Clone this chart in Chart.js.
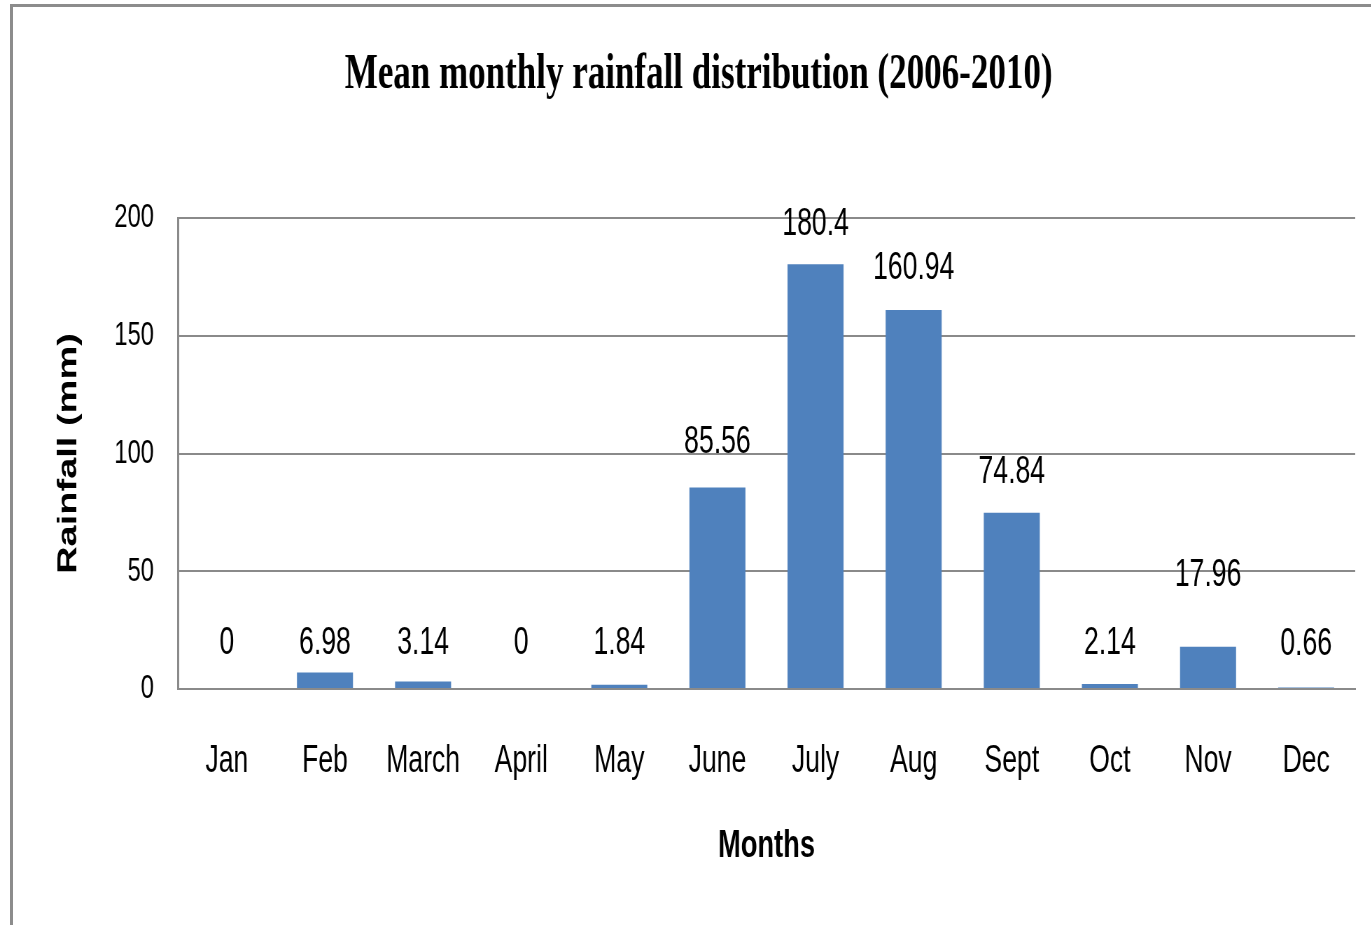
<!DOCTYPE html>
<html>
<head>
<meta charset="utf-8">
<title>Mean monthly rainfall distribution (2006-2010)</title>
<script src="https://cdn.jsdelivr.net/npm/chart.js@4.4.1/dist/chart.umd.min.js"></script>
<style>
    html, body { margin: 0; padding: 0; background: #fff; overflow: hidden; }
    #stage { position: relative; width: 1371px; height: 925px; overflow: hidden; }
    /* the original picture is squeezed sideways, so the chart is drawn wide and condensed */
    #rainChart { position: absolute; left: 0; top: 0; transform: scaleX(0.7); transform-origin: 0 0; }
    #frame {
        position: absolute; left: 10px; top: 4px; width: 1400px; height: 960px;
        border-left: 3px solid #8c8c8c; border-top: 3px solid #8c8c8c;
        pointer-events: none;
    }
</style>
</head>
<body>
<div id="stage">
    <canvas id="rainChart" width="1959" height="925"></canvas>
    <div id="frame"></div>
</div>
<script>
// values
const months   = ['Jan', 'Feb', 'March', 'April', 'May', 'June', 'July', 'Aug', 'Sept', 'Oct', 'Nov', 'Dec'];
const rainfall = [0, 6.98, 3.14, 0, 1.84, 85.56, 180.4, 160.94, 74.84, 2.14, 17.96, 0.66];
const yTicks   = [0, 50, 100, 150, 200];

// how far (px) each value label sits above its bar, as placed in the original
const labelLift = [45, 29, 38, 45, 41, 45, 40, 41, 40, 40, 71, 43];

const axisGrey = '#8a8a8a';

const valueLabels = {
    id: 'valueLabels',
    afterDatasetsDraw(chart) {
        const ctx = chart.ctx;
        const meta = chart.getDatasetMeta(0);
        ctx.save();
        ctx.font = '38px "Liberation Sans", Arial, sans-serif';
        ctx.fillStyle = '#000';
        ctx.textAlign = 'center';
        ctx.textBaseline = 'middle';
        meta.data.forEach((bar, i) => {
            ctx.fillText(String(rainfall[i]), bar.x, bar.y - labelLift[i]);
        });
        ctx.restore();
    }
};

new Chart(document.getElementById('rainChart').getContext('2d'), {
    type: 'bar',
    data: {
        labels: months,
        datasets: [{
            label: 'Rainfall (mm)',
            data: rainfall,
            backgroundColor: '#4f81bd',
            borderWidth: 0,
            barPercentage: 0.571,
            categoryPercentage: 1.0,
        }],
    },
    options: {
        responsive: false,
        animation: false,
        devicePixelRatio: 1,
        layout: { padding: { left: 60, right: 23, top: 0, bottom: 0 } },
        plugins: {
            legend: { display: false },
            tooltip: { enabled: false },
            title: {
                display: true,
                text: 'Mean monthly rainfall distribution (2006-2010)',
                color: '#000',
                font: { family: '"Liberation Serif", "Times New Roman", serif', size: 50, weight: 'bold' },
                padding: { top: 45, bottom: 113 },
            },
        },
        scales: {
            x: {
                grid: { display: false, drawTicks: false },
                border: { display: true, color: axisGrey, width: 2 },
                ticks: {
                    color: '#000',
                    padding: 50,
                    maxRotation: 0,
                    font: { family: '"Liberation Sans", Arial, sans-serif', size: 38 },
                },
                title: {
                    display: true,
                    text: 'Months',
                    color: '#000',
                    font: { family: '"Liberation Sans", Arial, sans-serif', size: 39, weight: 'bold' },
                    padding: { top: 0, bottom: 55 },
                },
                afterFit(axis) { axis.height = 236; },
            },
            y: {
                min: 0,
                max: 200,
                afterBuildTicks(axis) { axis.ticks = yTicks.map(v => ({ value: v })); },
                grid: { color: axisGrey, lineWidth: 2, drawTicks: false },
                border: { display: true, color: axisGrey, width: 3 },
                ticks: {
                    color: '#000',
                    padding: 34,
                    font: { family: '"Liberation Sans", Arial, sans-serif', size: 34 },
                },
                title: {
                    display: true,
                    text: 'Rainfall (mm)',
                    color: '#000',
                    font: { family: '"Liberation Sans", Arial, sans-serif', size: 38, weight: 'bold' },
                    padding: { top: 16, bottom: 0 },
                },
                afterFit(axis) { axis.width = 194; },
            },
        },
    },
    plugins: [valueLabels],
});
</script>
</body>
</html>
